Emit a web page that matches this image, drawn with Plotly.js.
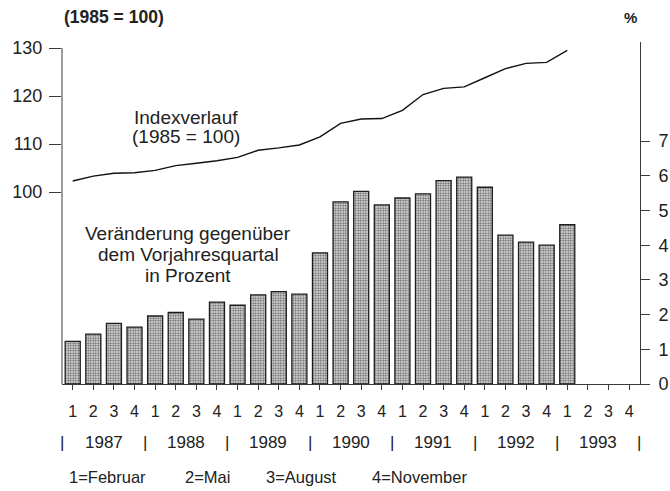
<!DOCTYPE html>
<html>
<head>
<meta charset="utf-8">
<script src="https://cdn.plot.ly/plotly-3.0.1.min.js"></script>
<style>html,body{margin:0;padding:0;background:#fff;}#chart{width:670px;height:491px;}</style>
</head>
<body>
<div id="chart"></div>
<script>
// ---- data ----
const years = ['1987', '1988', '1989', '1990', '1991', '1992', '1993'];
const quarterLabels = ['1', '2', '3', '4'];
const legendItems = ['1=Februar', '2=Mai', '3=August', '4=November'];
// Index (1985 = 100), quarterly from 1987 Q1 to 1993 Q1
const indexValues = [102.3, 103.3, 103.9, 104.0, 104.5, 105.5, 106.0, 106.5,
  107.2, 108.7, 109.2, 109.8, 111.5, 114.3, 115.2, 115.3,
  117.0, 120.3, 121.6, 121.9, 123.8, 125.7, 126.8, 127.0, 129.5];
// Change vs. same quarter previous year in %
const changeValues = [1.23, 1.44, 1.75, 1.64, 1.96, 2.06, 1.87, 2.36,
  2.27, 2.57, 2.66, 2.59, 3.78, 5.25, 5.55, 5.16,
  5.36, 5.48, 5.86, 5.96, 5.67, 4.29, 4.09, 4.00, 4.59];
const leftTicks = [100, 110, 120, 130];
const rightTicks = [0, 1, 2, 3, 4, 5, 6, 7];

// ---- derived ----
const qTickVals = [], qTickText = [];
years.forEach((y, yi) => quarterLabels.forEach((q, qi) => {
  qTickVals.push(yi * quarterLabels.length + qi + 1);
  qTickText.push(q);
}));
const xs = changeValues.map((_, i) => i + 1);
const xsIdx = indexValues.map((_, i) => i + 1);

const FONT = 'Liberation Sans, Arial, Helvetica, sans-serif';
const TXT = '#222';
const AX = '#3a3a3a';

const bars = {
  type: 'bar', x: xs, y: changeValues, yaxis: 'y2', width: 0.73,
  marker: {
    color: '#e6e6e6',
    line: {color: '#1e1e1e', width: 1.3},
    pattern: {shape: '.', fgcolor: '#666', bgcolor: '#f0f0f0', size: 2.5, solidity: 0.5}
  },
  hoverinfo: 'skip', showlegend: false
};
const line = {
  type: 'scatter', mode: 'lines', x: xsIdx, y: indexValues, yaxis: 'y',
  line: {color: '#111', width: 1.4}, hoverinfo: 'skip', showlegend: false
};

const annotations = [];
function txt(text, x, y, xref, yref, size, opts) {
  annotations.push(Object.assign({text, x, y, xref, yref, showarrow: false,
    font: {family: FONT, size, color: TXT}}, opts || {}));
}
// header texts
txt('<b>(1985 = 100)</b>', 0, 1, 'paper', 'paper', 17.5, {xanchor: 'left', yanchor: 'middle', yshift: 25});
txt('<b>%</b>', 1, 1, 'paper', 'paper', 15, {xanchor: 'center', yanchor: 'middle', yshift: 25, xshift: -10});
// inner labels (positions in paper fractions of the plot area)
txt('Indexverlauf', 0.215, 0.779, 'paper', 'paper', 19, {xanchor: 'center', yanchor: 'middle'});
txt('(1985 = 100)', 0.215, 0.724, 'paper', 'paper', 19, {xanchor: 'center', yanchor: 'middle'});
txt('Veränderung gegenüber', 0.218, 0.440, 'paper', 'paper', 19, {xanchor: 'center', yanchor: 'middle'});
txt('dem Vorjahresquartal', 0.218, 0.378, 'paper', 'paper', 19, {xanchor: 'center', yanchor: 'middle'});
txt('in Prozent', 0.218, 0.316, 'paper', 'paper', 19, {xanchor: 'center', yanchor: 'middle'});
// years and separators
const nq = quarterLabels.length;
years.forEach((y, yi) => {
  txt(y, yi * nq + (nq + 1) / 2, 0, 'x', 'paper', 17, {xanchor: 'center', yanchor: 'middle', yshift: -58});
});
for (let yi = 0; yi <= years.length; yi++) {
  txt('|', yi * nq + 0.5, 0, 'x', 'paper', 17, {xanchor: 'center', yanchor: 'middle', yshift: -58});
}
// legend line (left offsets in px from the plot's left edge)
const legendOffsets = [5, 121, 202, 308];
legendItems.forEach((t, i) => {
  txt(t, 0, 0, 'paper', 'paper', 16.5, {xanchor: 'left', yanchor: 'middle', yshift: -93, xshift: legendOffsets[i]});
});

const layout = {
  width: 670, height: 491,
  margin: {l: 62, r: 30, t: 42, b: 107, pad: 0},
  paper_bgcolor: '#fff', plot_bgcolor: 'rgba(0,0,0,0)',
  font: {family: FONT, color: TXT},
  xaxis: {
    range: [0.48, 28.53], tickmode: 'array', tickvals: qTickVals, ticktext: qTickText,
    ticks: 'outside', ticklen: 5, tickcolor: AX, tickwidth: 1,
    showline: true, linecolor: AX, linewidth: 1, showgrid: false, zeroline: false,
    tickfont: {family: FONT, size: 16, color: TXT}, ticklabelstandoff: 8, fixedrange: true
  },
  yaxis: {
    range: [60, 131.25], tickmode: 'array', tickvals: leftTicks,
    ticks: 'outside', ticklen: 12, tickcolor: AX, tickwidth: 1,
    showline: false, showgrid: false, zeroline: false,
    tickfont: {family: FONT, size: 18, color: TXT}, ticklabelstandoff: 3
  },
  yaxis2: {
    range: [0, 9.856], overlaying: 'y', side: 'right', tickmode: 'array', tickvals: rightTicks,
    ticks: 'outside', ticklen: 9, tickcolor: AX, tickwidth: 1,
    showline: true, linecolor: AX, linewidth: 1, showgrid: false, zeroline: false,
    tickfont: {family: FONT, size: 18, color: TXT}, ticklabelstandoff: 5
  },
  shapes: [
    {type: 'line', xref: 'paper', yref: 'y', x0: 0, x1: 0, y0: 60, y1: leftTicks[leftTicks.length - 1],
     line: {color: AX, width: 1}}
  ],
  annotations
};

Plotly.newPlot('chart', [bars, line], layout, {staticPlot: true, displayModeBar: false});
</script>
</body>
</html>
